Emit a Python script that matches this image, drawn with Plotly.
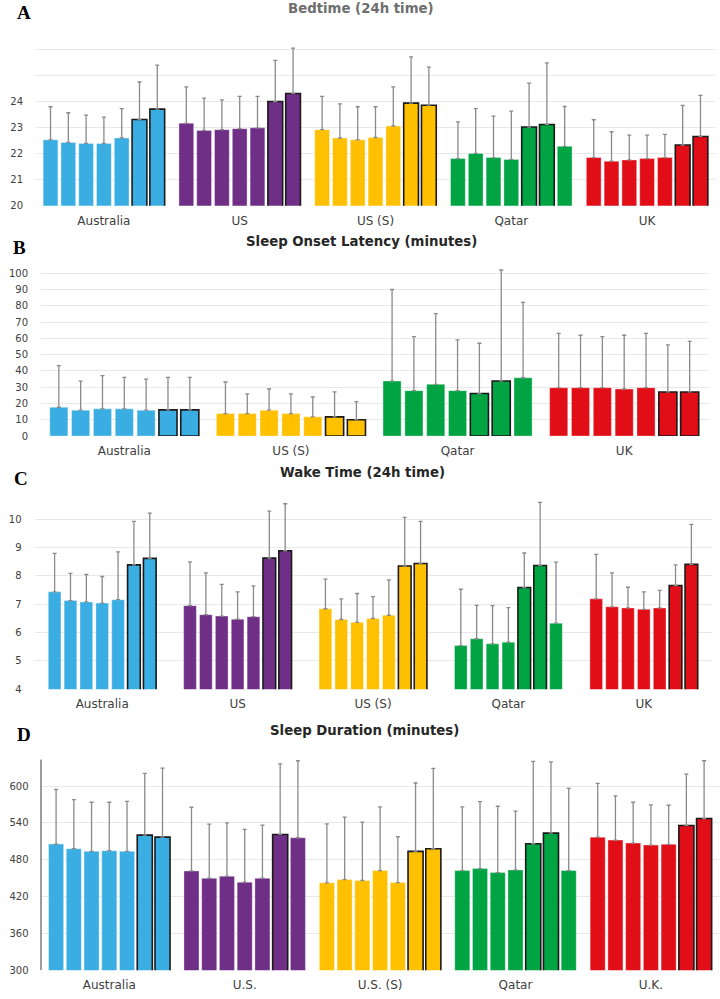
import plotly.graph_objects as go

# ---------------- DATA ----------------
cats_A = ["Australia", "US", "US (S)", "Qatar", "UK"]
cats_B = ["Australia", "US (S)", "Qatar", "UK"]
cats_C = ["Australia", "US", "US (S)", "Qatar", "UK"]
cats_D = ["Australia", "U.S.", "U.S. (S)", "Qatar", "U.K."]

# Bedtime (24h time): mean per country, 7 bars each
bed_mean = [
    [22.53, 22.43, 22.39, 22.39, 22.60, 23.31, 23.71],
    [23.17, 22.89, 22.92, 22.96, 22.99, 24.00, 24.31],
    [22.92, 22.60, 22.53, 22.62, 23.06, 23.94, 23.86],
    [21.81, 22.01, 21.85, 21.78, 23.02, 23.12, 22.28],
    [21.85, 21.71, 21.76, 21.81, 21.85, 22.33, 22.66],
]
bed_sd = [
    [1.27, 1.14, 1.09, 1.01, 1.13, 1.44, 1.69],
    [1.39, 1.24, 1.14, 1.24, 1.21, 1.58, 1.74],
    [1.28, 1.31, 1.27, 1.18, 1.50, 1.77, 1.46],
    [1.41, 1.72, 1.59, 1.85, 1.69, 2.36, 1.53],
    [1.45, 1.13, 0.95, 0.90, 0.89, 1.52, 1.58],
]
bed_outlined = [
    [0, 0, 0, 0, 0, 1, 1],
    [0, 0, 0, 0, 0, 1, 1],
    [0, 0, 0, 0, 0, 1, 1],
    [0, 0, 0, 0, 1, 1, 0],
    [0, 0, 0, 0, 0, 1, 1],
]

# Sleep onset latency (minutes)
sol_mean = [
    [17.7, 15.9, 16.7, 16.7, 15.9, 16.1, 16.1],
    [13.8, 13.8, 15.9, 13.8, 11.8, 11.8, 10.0],
    [33.8, 27.9, 31.8, 27.9, 26.1, 33.8, 35.8],
    [29.7, 29.7, 29.7, 28.9, 29.7, 27.1, 27.1],
]
sol_sd = [
    [25.5, 17.9, 20.4, 19.3, 19.1, 19.9, 19.9],
    [19.4, 12.1, 13.0, 12.1, 12.2, 15.3, 11.2],
    [56.2, 33.2, 43.4, 31.2, 30.9, 68.2, 46.3],
    [33.4, 32.2, 31.4, 33.0, 33.4, 28.9, 31.1],
]
sol_outlined = [
    [0, 0, 0, 0, 0, 1, 1],
    [0, 0, 0, 0, 0, 1, 1],
    [0, 0, 0, 0, 1, 1, 0],
    [0, 0, 0, 0, 0, 1, 1],
]

# Wake time (24h time)
wake_mean = [
    [7.44, 7.13, 7.08, 7.04, 7.16, 8.39, 8.62],
    [6.95, 6.63, 6.58, 6.47, 6.56, 8.63, 8.89],
    [6.84, 6.46, 6.36, 6.50, 6.61, 8.35, 8.44],
    [5.54, 5.78, 5.60, 5.66, 7.59, 8.37, 6.33],
    [7.19, 6.91, 6.87, 6.82, 6.87, 7.66, 8.41],
]
wake_sd = [
    [1.36, 0.96, 0.97, 0.94, 1.69, 1.54, 1.60],
    [1.55, 1.48, 1.12, 0.97, 1.09, 1.66, 1.66],
    [1.05, 0.73, 1.02, 0.77, 1.25, 1.72, 1.49],
    [1.99, 1.18, 1.35, 1.22, 1.22, 2.23, 2.16],
    [1.57, 1.20, 0.73, 0.62, 0.62, 0.73, 1.41],
]
wake_outlined = bed_outlined

# Sleep duration (minutes)
dur_mean = [
    [505.4, 497.8, 493.5, 494.6, 493.5, 520.0, 516.7],
    [461.6, 449.7, 453.0, 443.2, 449.7, 521.1, 515.7],
    [442.2, 447.6, 446.0, 462.2, 442.7, 493.5, 497.8],
    [462.2, 465.4, 458.9, 463.2, 505.9, 523.2, 462.2],
    [516.7, 511.9, 507.0, 503.8, 504.9, 535.7, 547.0],
]
dur_sd = [
    [89.2, 80.0, 80.0, 78.9, 81.6, 100.5, 112.5],
    [103.8, 88.1, 87.0, 86.0, 86.5, 115.1, 125.4],
    [96.2, 101.6, 95.0, 103.7, 74.6, 111.4, 130.8],
    [103.7, 109.2, 108.1, 95.7, 134.1, 116.2, 134.0],
    [87.6, 71.9, 66.5, 65.4, 63.7, 83.7, 94.1],
]
dur_outlined = [
    [0, 0, 0, 0, 0, 1, 1],
    [0, 0, 0, 0, 0, 1, 0],
    [0, 0, 0, 0, 0, 1, 1],
    [0, 0, 0, 0, 1, 1, 0],
    [0, 0, 0, 0, 0, 1, 1],
]

titles = ["Bedtime (24h time)", "Sleep Onset Latency (minutes)",
          "Wake Time (24h time)", "Sleep Duration (minutes)"]
letters = ["A", "B", "C", "D"]

# ---------------- STYLE ----------------
COL = {"Australia": "#3AAEE2", "US": "#702F87", "US (S)": "#FFC000",
       "Qatar": "#00A443", "UK": "#E20E17"}
colors_A = [COL["Australia"], COL["US"], COL["US (S)"], COL["Qatar"], COL["UK"]]
colors_B = [COL["Australia"], COL["US (S)"], COL["Qatar"], COL["UK"]]

W, H = 720, 999

def fx(px):
    return px / W

def fy(py):
    return 1 - py / H

panels = [
    dict(cats=cats_A, mean=bed_mean, sd=bed_sd, out=bed_outlined, colors=colors_A,
         xdom=(36, 715), ydom=(207, 23.5), yr=(20, 27), tv=list(range(20, 28)),
         shown=5, G=0.917, frac=0.83),
    dict(cats=cats_B, mean=sol_mean, sd=sol_sd, out=sol_outlined, colors=colors_B,
         xdom=(41, 707.5), ydom=(438.7, 258.5), yr=(0, 110), tv=list(range(0, 111, 10)),
         shown=11, G=0.917, frac=0.83),
    dict(cats=cats_C, mean=wake_mean, sd=wake_sd, out=wake_outlined, colors=colors_A,
         xdom=(34.5, 711.5), ydom=(693.3, 494), yr=(4, 11), tv=list(range(4, 12)),
         shown=7, G=0.82, frac=0.80),
    dict(cats=cats_D, mean=dur_mean, sd=dur_sd, out=dur_outlined, colors=colors_A,
         xdom=(41.6, 718.6), ydom=(976, 753.7), yr=(300, 660), tv=list(range(300, 661, 60)),
         shown=6, G=0.917, frac=0.85),
]

fig = go.Figure()
layout = dict(width=W, height=H, margin=dict(l=0, r=0, t=0, b=0),
              paper_bgcolor="white", plot_bgcolor="white", showlegend=False,
              barmode="overlay")

for p_i, P in enumerate(panels):
    sfx = "" if p_i == 0 else str(p_i + 1)
    nb = 7
    slot = P["G"] / nb
    bw = slot * P["frac"]
    for j in range(nb):
        ys = [row[j] for row in P["mean"]]
        es = [row[j] for row in P["sd"]]
        outl = [row[j] for row in P["out"]]
        fig.add_trace(go.Bar(
            x=P["cats"], y=ys,
            xaxis="x" + sfx, yaxis="y" + sfx,
            width=bw, offset=-P["G"] / 2 + j * slot + (slot - bw) / 2,
            marker=dict(color=P["colors"],
                        line=dict(color=["#1a1a1a" if o else "rgba(255,255,255,0.35)" for o in outl],
                                  width=[1.6 if o else 1.0 for o in outl])),
            error_y=dict(type="data", symmetric=False, array=es,
                         arrayminus=[0] * len(es), color="#8a8a8a",
                         thickness=1.3, width=2),
            hoverinfo="skip",
        ))
    layout["xaxis" + sfx] = dict(
        domain=[fx(P["xdom"][0]), fx(P["xdom"][1])], anchor="y" + sfx,
        type="category", range=[-0.5, len(P["cats"]) - 0.5],
        showgrid=False, showline=False, zeroline=False, ticks="",
        tickfont=dict(family="DejaVu Sans", size=12, color="#404040"),
        ticklabelstandoff=6, fixedrange=True)
    layout["yaxis" + sfx] = dict(
        domain=[fy(P["ydom"][0]), fy(P["ydom"][1])], anchor="x" + sfx,
        range=list(P["yr"]), tickvals=P["tv"],
        ticktext=[str(v) if k < P["shown"] else "" for k, v in enumerate(P["tv"])],
        showgrid=True, gridcolor="#e8e8e8", gridwidth=1,
        showline=False, zeroline=False, ticks="",
        tickfont=dict(family="DejaVu Sans", size=10, color="#404040"),
        ticklabelstandoff=12, fixedrange=True)

fig.update_layout(**layout)

# titles and panel letters
title_pos = [(361, 9, "#6e6e6e"), (361, 243, "#262626"), (362, 475, "#262626"), (364, 735, "#262626")]
letter_pos = [(24, 13), (19, 249), (20.5, 481), (24.5, 739)]
for k in range(4):
    tx, ty, tc = title_pos[k]
    fig.add_annotation(text="<b>" + titles[k] + "</b>", x=fx(tx), y=fy(ty),
                       xref="paper", yref="paper", showarrow=False,
                       xanchor="center", yanchor="middle",
                       font=dict(family="DejaVu Sans", size=13.3, color=tc))
    lx, ly = letter_pos[k]
    fig.add_annotation(text="<b>" + letters[k] + "</b>", x=fx(lx), y=fy(ly),
                       xref="paper", yref="paper", showarrow=False,
                       xanchor="center", yanchor="middle",
                       font=dict(family="Liberation Serif", size=19, color="black"))

# vertical axis line of panel D
fig.add_shape(type="line", xref="paper", yref="y4", x0=fx(41), x1=fx(41),
              y0=300, y1=643, line=dict(color="#3a3a3a", width=1))

fig.write_html("out.html", config={"displayModeBar": False},
               post_script="document.body.style.margin='0px';document.body.style.overflow='hidden';")
